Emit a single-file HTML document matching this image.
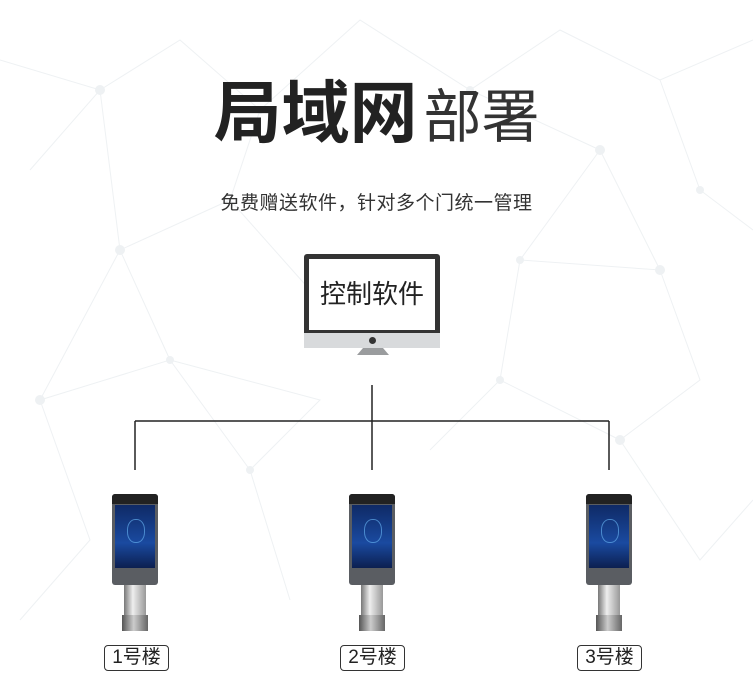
<!DOCTYPE html>
<html><head><meta charset="utf-8"><style>
body{margin:0;width:753px;height:693px;background:#fff;position:relative;overflow:hidden;font-family:"Liberation Sans","Noto Sans CJK SC",sans-serif;color:#222}
.a{position:absolute}
.dev .body{position:absolute;left:0;top:0;width:46px;height:91px;background:#5a5d62;border-radius:3px}
.dev .top{position:absolute;left:0;top:0;width:46px;height:10px;background:#222;border-radius:3px 3px 0 0}
.dev .scr{position:absolute;left:3px;top:11px;width:40px;height:63px;background:linear-gradient(#0f2a66,#1a4aa0 60%,#0c1f50)}
.dev .face{position:absolute;left:12px;top:14px;width:16px;height:22px;border:1px solid #5fa8e8;border-radius:45%;opacity:.7}
.dev .pole{position:absolute;left:12px;top:91px;width:22px;height:30px;background:linear-gradient(90deg,#777,#eee 40%,#999)}
.dev .base{position:absolute;left:10px;top:121px;width:26px;height:16px;background:linear-gradient(90deg,#555,#ccc 45%,#666)}
.lab{position:absolute;width:63px;height:24px;border:1.5px solid #333;border-radius:4px;font-size:19px;line-height:24px;text-align:center;background:#fff}
</style></head><body>
<svg class="a" style="left:0;top:0" width="753" height="693">
<g stroke="#eef1f3" stroke-width="1" fill="none">
<path d="M0 60L100 90L180 40L260 110L360 20L470 90L560 30L660 80L753 40M30 170L100 90L120 250L230 200L260 110M120 250L40 400L170 360L120 250M230 200L310 290M470 90L600 150L520 260L660 270L600 150M660 80L700 190L753 230M520 260L500 380L620 440L700 380L660 270M40 400L90 540L20 620M170 360L250 470L320 400L170 360M500 380L430 450M620 440L700 560L753 500M250 470L290 600"/>
</g>
<g fill="#eef1f3"><circle cx="100" cy="90" r="5"/><circle cx="260" cy="110" r="4"/><circle cx="120" cy="250" r="5"/><circle cx="600" cy="150" r="5"/><circle cx="520" cy="260" r="4"/><circle cx="40" cy="400" r="5"/><circle cx="170" cy="360" r="4"/><circle cx="660" cy="270" r="5"/><circle cx="500" cy="380" r="4"/><circle cx="620" cy="440" r="5"/><circle cx="250" cy="470" r="4"/><circle cx="700" cy="190" r="4"/><circle cx="470" cy="90" r="4"/></g>
<g stroke="#222" stroke-width="1.5"><line x1="372" y1="385" x2="372" y2="421"/><line x1="135" y1="421" x2="609" y2="421"/><line x1="135" y1="421" x2="135" y2="470"/><line x1="372" y1="421" x2="372" y2="470"/><line x1="609" y1="421" x2="609" y2="470"/></g>
</svg>
<div class="a" style="left:0;width:753px;top:74px;text-align:center;white-space:nowrap"><span style="font-size:68px;font-weight:bold;line-height:80px">局域网</span><span style="font-size:58px;line-height:80px;color:#333;margin-left:6px">部署</span></div>
<div class="a" style="left:0;width:753px;top:188px;text-align:center;font-size:19px;color:#333;letter-spacing:0.5px">免费赠送软件，针对多个门统一管理</div>
<div class="a" style="left:304px;top:254px;width:136px;height:79px;background:#333;border-radius:3px 3px 0 0"></div>
<div class="a" style="left:309px;top:259px;width:126px;height:71px;background:#fff;font-size:26px;line-height:71px;text-align:center;color:#222">控制软件</div>
<div class="a" style="left:304px;top:333px;width:136px;height:15px;background:#d8dadc"></div>
<div class="a" style="left:369px;top:337px;width:7px;height:7px;border-radius:50%;background:#333"></div>
<div class="a" style="left:357px;top:348px;width:0;height:0;border-left:6px solid transparent;border-right:6px solid transparent;border-bottom:7px solid #9a9c9e;width:20px"></div>
<div class="a dev" style="left:112px;top:494px"><div class="body"></div><div class="top"></div><div class="scr"><div class="face"></div></div><div class="pole"></div><div class="base"></div></div>
<div class="a dev" style="left:349px;top:494px"><div class="body"></div><div class="top"></div><div class="scr"><div class="face"></div></div><div class="pole"></div><div class="base"></div></div>
<div class="a dev" style="left:586px;top:494px"><div class="body"></div><div class="top"></div><div class="scr"><div class="face"></div></div><div class="pole"></div><div class="base"></div></div>
<div class="lab" style="left:104px;top:645px">1号楼</div>
<div class="lab" style="left:340px;top:645px">2号楼</div>
<div class="lab" style="left:577px;top:645px">3号楼</div>
</body></html>
